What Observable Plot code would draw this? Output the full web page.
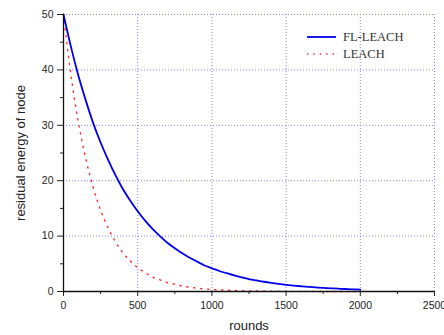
<!DOCTYPE html>
<html>
<head>
<meta charset="utf-8">
<script src="https://cdn.jsdelivr.net/npm/d3@7"></script>
<script src="https://cdn.jsdelivr.net/npm/@observablehq/plot@0.6"></script>
<style>
  html, body { margin: 0; padding: 0; background: #fff; overflow: hidden; }
  #wrap { position: relative; width: 444px; height: 335px; }
  #legend { position: absolute; left: 0; top: 0; width: 444px; height: 335px; pointer-events: none; }
</style>
</head>
<body>
<div id="wrap"></div>
<script>
// Data
const rounds = [0,50,100,150,200,250,300,350,400,450,500,550,600,650,700,750,800,850,900,950,1000,
  1050,1100,1150,1200,1250,1300,1350,1400,1450,1500,1550,1600,1650,1700,1750,1800,1850,1900,1950,2000];
const flLeach = [50,44.2,39.0,34.5,30.4,26.9,23.8,21.0,18.5,16.4,14.5,12.8,11.3,10.0,8.8,7.8,6.9,6.1,5.4,4.7,4.2,
  3.7,3.3,2.9,2.55,2.25,2.0,1.76,1.55,1.37,1.21,1.07,0.95,0.84,0.74,0.65,0.58,0.51,0.45,0.40,0.35];
const leach = [50,39.1,30.6,24.0,18.8,14.7,11.5,9.0,7.0,5.5,4.3,3.4,2.6,2.1,1.6,1.3,1.0,0.78,0.61,0.48,0.37,
  0.29,0.23,0.18,0.14,0.11,0.09,0.07,0.05,0.04,0.03,0.03,0.02,0.02,0.01,0.01,0.01,0.01,0.0,0.0,0.0];
const seriesNames = ["FL-LEACH", "LEACH"];
const xMajor = [0,500,1000,1500,2000,2500];
const xMinor = [250,750,1250,1750,2250];
const yMajor = [0,10,20,30,40,50];
const yMinor = [5,15,25,35,45];

const fl = rounds.map((r,i) => ({rounds: r, energy: flLeach[i]}));
const le = rounds.map((r,i) => ({rounds: r, energy: leach[i]}));

const gridColor = "#8282ff";
const chart = Plot.plot({
  width: 444,
  height: 335,
  marginLeft: 63,
  marginRight: 10,
  marginTop: 14,
  marginBottom: 44,
  style: {fontFamily: "Liberation Sans, Arial, sans-serif", fontSize: "10.5px", color: "#222", background: "white"},
  x: {domain: [0, 2500]},
  y: {domain: [0, 50]},
  marks: [
    Plot.ruleX(xMajor.filter(d => d > 0), {stroke: gridColor, strokeDasharray: "1,2", strokeWidth: 1}),
    Plot.ruleY(yMajor.filter(d => d > 0), {stroke: gridColor, strokeDasharray: "1,2", strokeWidth: 1}),
    Plot.line(le, {x: "rounds", y: "energy", stroke: "#ff3030", strokeWidth: 1.4, strokeDasharray: "1.4,5.6", curve: "monotone-x"}),
    Plot.line(fl, {x: "rounds", y: "energy", stroke: "#0000ee", strokeWidth: 1.8, curve: "monotone-x"}),
    Plot.axisX({ticks: xMajor, tickSize: 5, tickPadding: 5, tickFormat: d => String(d), label: null, fontSize: 10.5}),
    Plot.axisX({ticks: xMinor, tickSize: 3, text: null, label: null}),
    Plot.axisX({ticks: [], label: "rounds", labelAnchor: "center", labelArrow: "none", labelOffset: 38, fontSize: 13}),
    Plot.axisY({ticks: yMajor, tickSize: 6, tickPadding: 4, label: null, fontSize: 10.5}),
    Plot.axisY({ticks: yMinor, tickSize: 3, text: null, label: null}),
    Plot.axisY({ticks: [], label: "residual energy of node", labelAnchor: "center", labelArrow: "none", labelOffset: 48, fontSize: 13}),
    Plot.ruleY([0], {stroke: "#111", strokeWidth: 1.3}),
    Plot.ruleX([0], {stroke: "#111", strokeWidth: 1.3})
  ]
});
document.getElementById("wrap").appendChild(chart);

// Legend overlay
const ns = "http://www.w3.org/2000/svg";
const leg = document.createElementNS(ns, "svg");
leg.setAttribute("id", "legend");
leg.setAttribute("width", 444);
leg.setAttribute("height", 335);
const items = [
  {name: seriesNames[0], stroke: "#0000ee", dash: null, w: 1.8},
  {name: seriesNames[1], stroke: "#ff3030", dash: "1.4,5", w: 1.4}
];
items.forEach((it, i) => {
  const y = 37 + i * 17;
  const ln = document.createElementNS(ns, "line");
  ln.setAttribute("x1", 307); ln.setAttribute("x2", 336);
  ln.setAttribute("y1", y); ln.setAttribute("y2", y);
  ln.setAttribute("stroke", it.stroke);
  ln.setAttribute("stroke-width", it.w);
  if (it.dash) ln.setAttribute("stroke-dasharray", it.dash);
  leg.appendChild(ln);
  const t = document.createElementNS(ns, "text");
  t.setAttribute("x", 343); t.setAttribute("y", y);
  t.setAttribute("dy", "0.35em");
  t.setAttribute("font-family", "Liberation Serif, Times New Roman, serif");
  t.setAttribute("font-size", "12.5px");
  t.setAttribute("fill", "#333");
  t.textContent = it.name;
  leg.appendChild(t);
});
document.getElementById("wrap").appendChild(leg);
</script>
</body>
</html>
